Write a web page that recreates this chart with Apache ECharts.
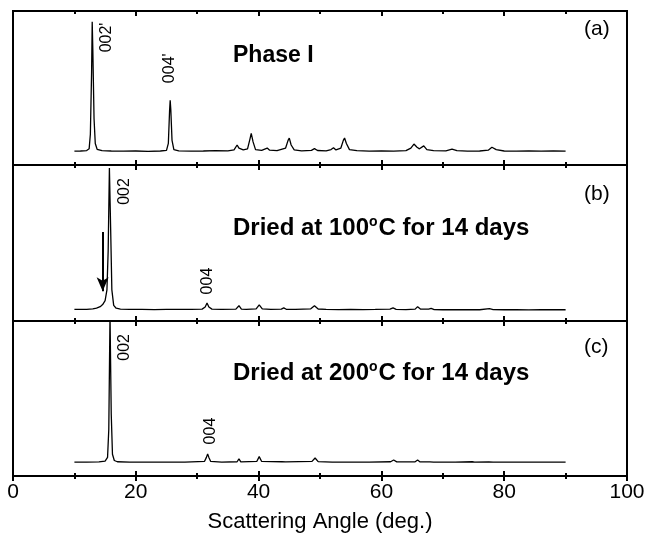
<!DOCTYPE html>
<html>
<head>
<meta charset="utf-8">
<script src="https://cdn.jsdelivr.net/npm/echarts@6/dist/echarts.min.js"></script>
<style>
  html, body { margin: 0; padding: 0; background: #fff; }
  #chart { width: 645px; height: 538px; }
</style>
</head>
<body>
<div id="chart"></div>
<script>
// x ticks (deg.)
var xTicks = [0, 20, 40, 60, 80, 100];

// (a) Phase I  [angle, intensity]
var phaseI = [
  [10, 9.0], [11, 9.1], [12, 9.4], [12.4, 10.5], [12.6, 20], [12.8, 60], [12.9, 93], [13.0, 75],
  [13.2, 30], [13.4, 14], [13.7, 10.2], [14.5, 9.3], [16, 9.1], [18, 9.0], [20, 9.1], [22, 8.9],
  [24, 9.1], [25, 9.5], [25.3, 14], [25.5, 35], [25.6, 42], [25.7, 36], [25.9, 16], [26.2, 10],
  [27, 9.2], [29, 9.0], [31, 9.1], [33, 9.3], [35, 9.2], [36.0, 9.8], [36.5, 13], [36.8, 11],
  [37.1, 12], [37.5, 9.8], [38.2, 10.5], [38.6, 17], [38.8, 20.5], [39.1, 15], [39.5, 10],
  [40.5, 9.5], [41.4, 11], [41.8, 9.6], [43, 9.3], [44.4, 11], [44.8, 16], [45.0, 17.5],
  [45.3, 13], [45.8, 9.8], [47, 9.2], [48.6, 9.5], [49.1, 10.6], [49.6, 9.4], [51, 9.2],
  [51.8, 10], [52.2, 11.2], [52.6, 9.8], [53.4, 11], [53.8, 16], [54.0, 17.5], [54.3, 14],
  [54.8, 10], [56, 9.3], [58, 9.0], [60, 9.2], [62, 9.0], [64, 9.3], [64.8, 11], [65.3, 13.6],
  [65.8, 11.5], [66.2, 10.5], [66.9, 12.4], [67.4, 10], [68.5, 9.3], [70.5, 9.2], [71.5, 10.3],
  [72.3, 9.3], [74, 9.0], [76, 9.1], [77.4, 9.6], [78.0, 11.5], [78.7, 10], [80, 9.1], [82, 9.0],
  [84, 9.2], [86, 9.0], [88, 9.1], [90, 9.0]
];

// (b) dried at 100 C
var dried100 = [
  [10, 7.4], [12, 7.5], [13, 7.8], [13.6, 8.3], [14.2, 9.2], [14.6, 10.5], [15.0, 13], [15.3, 20],
  [15.5, 45], [15.7, 98], [15.9, 60], [16.1, 20], [16.4, 10], [16.8, 8.2], [17.5, 7.6], [19, 7.4],
  [21, 7.5], [23, 7.3], [25, 7.4], [27, 7.5], [29, 7.4], [30.8, 7.6], [31.3, 9], [31.6, 11.5],
  [31.9, 9], [32.4, 7.6], [34, 7.4], [36.3, 7.6], [36.8, 9.8], [37.2, 7.6], [38, 7.5], [39.6, 7.8],
  [40.1, 10.4], [40.6, 7.8], [42, 7.5], [43.7, 7.6], [44.1, 8.4], [44.5, 7.5], [46, 7.4],
  [48.5, 7.8], [49.1, 9.8], [49.7, 7.7], [51, 7.4], [53, 7.3], [55, 7.4], [57, 7.3], [59, 7.4],
  [61.4, 7.6], [61.9, 8.4], [62.4, 7.5], [64, 7.3], [65.5, 7.6], [65.9, 9.2], [66.4, 7.6],
  [67.7, 7.6], [68.1, 8.1], [68.6, 7.3], [70, 7.2], [72, 7.2], [74, 7.3], [76, 7.2], [77.6, 7.9],
  [78.2, 7.3], [80, 7.2], [82, 7.3], [84, 7.1], [86, 7.2], [88, 7.2], [90, 7.2]
];

// (c) dried at 200 C
var dried200 = [
  [10, 9.0], [12, 9.0], [14, 9.1], [15.0, 9.6], [15.4, 12], [15.6, 30], [15.8, 104], [16.0, 40],
  [16.2, 14], [16.5, 10], [17, 9.2], [19, 9.0], [22, 9.0], [25, 9.0], [28, 9.0], [31.2, 9.5],
  [31.5, 12], [31.7, 14.2], [31.9, 12], [32.2, 9.4], [34, 9.0], [36.5, 9.2], [36.8, 11],
  [37.1, 9.1], [39.7, 9.4], [40.1, 12.5], [40.5, 9.4], [43.8, 9.2], [44.1, 9.7], [44.4, 9.1],
  [48.7, 9.4], [49.2, 11.6], [49.7, 9.3], [52, 9.0], [55, 9.0], [58, 9.0], [61.5, 9.2],
  [62.0, 10.3], [62.5, 9.1], [65.5, 9.2], [65.9, 10.3], [66.3, 9.1], [67.9, 9.1], [68.2, 9.7],
  [68.5, 9.0], [72, 9.0], [74.8, 9.2], [75.2, 9.0], [77.5, 9.1], [77.8, 9.6], [78.2, 9.0],
  [82, 9.0], [86, 9.0], [90, 9.0]
];

// peak labels [angle, height, text]
var labelsA = [[15.3, 82.8, "002'"], [25.5, 62.8, "004'"]];
var labelsB = [[18.2, 83, '002'], [31.7, 25.6, '004']];
var labelsC = [[18.2, 83, '002'], [32.2, 29, '004']];

// shoulder arrow in (b): [angle, from, to]
var arrowB = [14.6, 57, 19];

var FONT = '"Liberation Sans", Arial, sans-serif';

var myChart = echarts.init(document.getElementById('chart'), null, { renderer: 'canvas' });

var grids = [
  { left: 13, right: 18, top: 11, height: 154 },
  { left: 13, right: 18, top: 165, height: 156 },
  { left: 13, right: 18, top: 321, height: 155 }
];
grids.forEach(function (g) {
  g.show = true;
  g.borderColor = '#000';
  g.borderWidth = 2;
  g.containLabel = false;
  g.outerBoundsMode = 'none';
});

function xAx(gi, inside, labels, pos) {
  return {
    type: 'value', gridIndex: gi, min: 0, max: 100, interval: 20,
    position: pos || 'bottom',
    axisLine: { show: true, onZero: false, lineStyle: { color: '#000', width: 2 } },
    axisTick: { show: true, inside: inside, length: 5, lineStyle: { color: '#000', width: 2 } },
    minorTick: { show: true, splitNumber: 2, length: 3, lineStyle: { color: '#000', width: 2 } },
    splitLine: { show: false },
    axisLabel: { show: labels, color: '#000', fontSize: 21, fontFamily: FONT, margin: 6 },
    name: labels ? 'Scattering Angle (deg.)' : '',
    nameLocation: 'middle', nameGap: 35,
    nameTextStyle: { color: '#000', fontSize: 22, fontFamily: FONT }
  };
}

function yAx(gi) {
  return { type: 'value', gridIndex: gi, min: 0, max: 100, show: false };
}

function markPts(list) {
  return {
    symbol: 'circle', symbolSize: 1, silent: true,
    itemStyle: { color: 'transparent' },
    label: { show: true, position: 'inside', rotate: 90, color: '#000', fontSize: 16, fontFamily: FONT, formatter: '{b}' },
    data: list.map(function (p) { return { name: p[2], coord: [p[0], p[1]] }; })
  };
}

function line(gi, data, labels) {
  return {
    type: 'line', xAxisIndex: gi * 2, yAxisIndex: gi, data: data,
    showSymbol: false, symbol: 'none', smooth: false, clip: true,
    lineStyle: { color: '#000', width: 1.3 },
    markPoint: markPts(labels),
    animation: false
  };
}

var seriesB = line(1, dried100, labelsB);
seriesB.markLine = {
  silent: true, animation: false,
  symbol: ['none', 'arrow'], symbolSize: [9, 14],
  lineStyle: { color: '#000', width: 2, type: 'solid' },
  label: { show: false },
  data: [[{ coord: [arrowB[0], arrowB[1]] }, { coord: [arrowB[0], arrowB[2]] }]]
};

function txt(x, y, text, size, bold) {
  return {
    type: 'text', left: x, top: y,
    style: { text: text, fill: '#000', font: (bold ? 'bold ' : '') + size + 'px ' + FONT }
  };
}

function dried(x, y, temp) {
  return {
    type: 'text', left: x, top: y,
    style: {
      text: '{n|Dried at ' + temp + '}{s|o}{n|C for 14 days}',
      rich: {
        n: { fontSize: 24, fontWeight: 'bold', fontFamily: FONT, fill: '#000', color: '#000', lineHeight: 27 },
        s: { fontSize: 14, fontWeight: 'bold', fontFamily: FONT, fill: '#000', color: '#000', lineHeight: 14, verticalAlign: 'top', padding: [0, 1, 0, 0] }
      }
    }
  };
}

var option = {
  backgroundColor: '#fff',
  animation: false,
  grid: grids,
  xAxis: [
    xAx(0, false, false), xAx(0, true, false),
    xAx(1, false, false), xAx(1, true, false),
    xAx(2, false, true), xAx(2, true, false),
    xAx(0, true, false, 'top')
  ],
  yAxis: [yAx(0), yAx(1), yAx(2)],
  series: [
    line(0, phaseI, labelsA),
    seriesB,
    line(2, dried200, labelsC)
  ],
  graphic: [
    txt(584, 19, '(a)', 21, false),
    txt(584, 184, '(b)', 21, false),
    txt(584, 337, '(c)', 21, false),
    txt(233, 44, 'Phase I', 23, true),
    dried(233, 215, '100'),
    dried(233, 360, '200')
  ]
};

myChart.setOption(option);
window.onresize = myChart.resize;
</script>
</body>
</html>
